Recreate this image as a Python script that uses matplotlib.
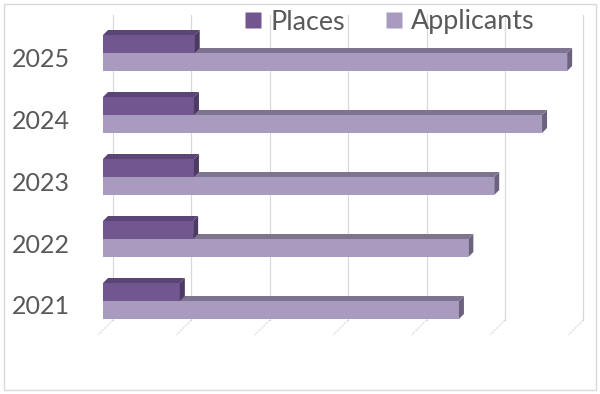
import matplotlib
matplotlib.use("Agg")
import matplotlib.pyplot as plt
from matplotlib.patches import Polygon, Rectangle
from matplotlib.lines import Line2D
import matplotlib.transforms as mtransforms

plt.rcParams['font.family'] = ['Lato', 'DejaVu Sans']

years = ["2021", "2022", "2023", "2024", "2025"]
places = [980, 1150, 1160, 1160, 1170]
applicants = [4540, 4660, 4990, 5600, 5920]
series_names = ["Places", "Applicants"]
xmax = 6000
xstep = 1000

c_places = "#72568f"
c_places_top = "#5b4476"
c_places_side = "#4c3a64"
c_app = "#a99bbf"
c_app_top = "#7f7490"
c_app_side = "#6c627d"
grid_c = "#d9d9d9"
text_c = "#595959"

W, H, DPI = 600, 394, 100
fig = plt.figure(figsize=(W / DPI, H / DPI), dpi=DPI)

# axes geometry (pixels)
ax_left, ax_right = 103, 103 + 6 * 78.4
ax_top, ax_bot = 15, 335
ax = fig.add_axes([ax_left / W, 1 - ax_bot / H, (ax_right - ax_left) / W, (ax_bot - ax_top) / H])
cat_px = 62.0
y_first_px = 301.0  # pixel row of first category center
ylo = (y_first_px - ax_bot) / cat_px
yhi = (y_first_px - ax_top) / cat_px
ax.set_xlim(0, xmax)
ax.set_ylim(ylo, yhi)
ax.axis("off")

px_x = xmax / (ax_right - ax_left)   # data units per pixel (x)
px_y = 1.0 / cat_px                  # data units per pixel (y)

# gridlines: back wall + floor diagonals
back_dx, back_bottom_px = 10, 320
front_dx = -5
y_back_bottom = (y_first_px - back_bottom_px) / cat_px
for k in range(int(xmax / xstep) + 1):
    v = k * xstep
    ax.plot([v + back_dx * px_x] * 2, [y_back_bottom, yhi], color=grid_c, lw=0.9, zorder=0, clip_on=False)
    ax.plot([v + back_dx * px_x, v + front_dx * px_x], [y_back_bottom, ylo], color=grid_c, lw=0.8,
            ls=(0, (2, 1)), zorder=0, clip_on=False)

bar_h = 18 * px_y
ddx, ddy = 5 * px_x, 5 * px_y


def bar3d(x1, yb, h, cf, ct, cs, z):
    ax.add_patch(Rectangle((0, yb), x1, h, facecolor=cf, edgecolor="none", zorder=z))
    yt = yb + h
    ax.add_patch(Polygon([(0, yt), (ddx, yt + ddy), (x1 + ddx, yt + ddy), (x1, yt)],
                         closed=True, facecolor=ct, edgecolor="none", zorder=z))
    ax.add_patch(Polygon([(x1, yb), (x1, yt), (x1 + ddx, yt + ddy), (x1 + ddx, yb + ddy)],
                         closed=True, facecolor=cs, edgecolor="none", zorder=z))


for i, (p, a) in enumerate(zip(places, applicants)):
    bar3d(a, i - bar_h, bar_h, c_app, c_app_top, c_app_side, 2)
    bar3d(p, i, bar_h, c_places, c_places_top, c_places_side, 3)

# category labels
lab_tr = mtransforms.blended_transform_factory(fig.transFigure, ax.transData) + \
    mtransforms.ScaledTranslation(0, -6 / DPI, fig.dpi_scale_trans)
for i, y in enumerate(years):
    fig.text(70 / W, i, y, transform=lab_tr, ha="right", va="center", fontsize=18, color=text_c)

# legend
handles = [Line2D([], [], marker="s", ls="none", markersize=11, markerfacecolor=c, markeredgecolor="none")
           for c in (c_places, c_app)]
fig.legend(handles, series_names, loc="center", bbox_to_anchor=(390 / W, 1 - 22 / H), ncol=2,
           frameon=False, fontsize=19.4, labelcolor=text_c, handlelength=0.56, handletextpad=0.37,
           columnspacing=1.52, borderpad=0, borderaxespad=0)

# chart border
fig.add_artist(Rectangle((3.5 / W, 1 - 389.5 / H), 592 / W, 386 / H, transform=fig.transFigure,
                         facecolor="none", edgecolor=grid_c, lw=1))

fig.savefig("out.png", dpi=DPI)
